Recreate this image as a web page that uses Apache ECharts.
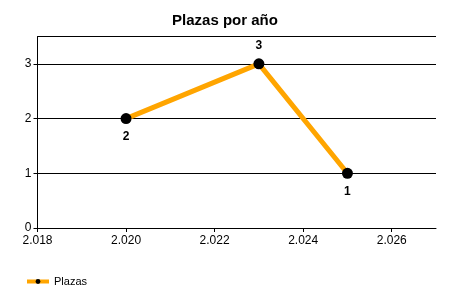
<!DOCTYPE html>
<html><head><meta charset="utf-8">
<script src="https://cdn.jsdelivr.net/npm/echarts@6/dist/echarts.min.js"></script>
<style>html,body{margin:0;padding:0;background:#fff}#c{width:450px;height:300px}</style>
</head><body><div id="c"></div>
<script>
const years = [2020, 2023, 2025];
const plazas = [2, 3, 1];
const labelPos = ['bottom', 'top', 'bottom'];
const seriesName = 'Plazas';
const titleText = 'Plazas por año';

const fmt = v => { const s = String(Math.round(v)); return s.length > 3 ? s.slice(0, s.length - 3) + '.' + s.slice(-3) : s; };
const chart = echarts.init(document.getElementById('c'), null, {renderer: 'canvas'});
chart.setOption({
  animation: false,
  backgroundColor: '#fff',
  textStyle: {fontFamily: 'Liberation Sans, Arial, sans-serif'},
  title: {text: titleText, left: 'center', top: 8, textStyle: {fontSize: 15, fontWeight: 'bold', color: '#000'}},
  grid: {left: 37.5, right: 14, top: 36.5, bottom: 72, containLabel: false},
  xAxis: {
    type: 'value', min: 2018, max: 2027, interval: 2,
    axisLine: {show: true, onZero: false, lineStyle: {color: '#000', width: 1}},
    axisTick: {show: true, length: 4, lineStyle: {color: '#000'}},
    splitLine: {show: false},
    axisLabel: {color: '#000', fontSize: 12, margin: 7, formatter: fmt, showMaxLabel: false}
  },
  yAxis: {
    type: 'value', min: 0, max: 3.5, interval: 1,
    axisLine: {show: true, lineStyle: {color: '#000', width: 1}},
    axisTick: {show: true, length: 4, lineStyle: {color: '#000'}},
    splitLine: {show: true, lineStyle: {color: '#000', width: 1}},
    axisLabel: {color: '#000', fontSize: 12, margin: 6, showMaxLabel: false,
      formatter: v => (Number.isInteger(v) ? String(v) : '')}
  },
  legend: {
    left: 20, top: 271, itemWidth: 22, itemHeight: 6, itemGap: 3,
    textStyle: {fontSize: 11, color: '#000'},
    data: [{name: seriesName, lineStyle: {width: 4, color: '#FFA500'}}]
  },
  series: [{
    name: seriesName, type: 'line',
    data: years.map((y, i) => ({value: [y, plazas[i]], label: {position: labelPos[i]}})),
    symbol: 'circle', symbolSize: 11,
    itemStyle: {color: '#000'},
    lineStyle: {color: '#FFA500', width: 5},
    label: {show: true, fontSize: 12, fontWeight: 'bold', color: '#000', distance: 7,
      formatter: p => p.value[1]}
  }]
});
</script></body></html>
